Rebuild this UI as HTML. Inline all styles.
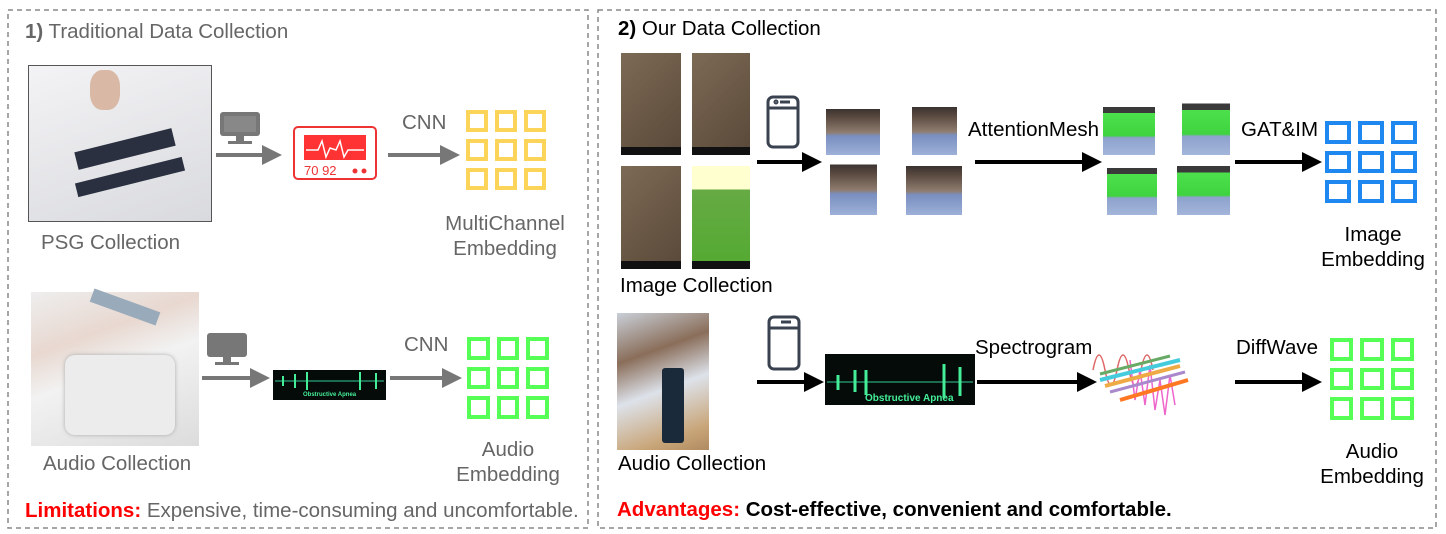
<!DOCTYPE html>
<html><head><meta charset="utf-8"><style>
*{margin:0;padding:0;box-sizing:border-box}
body{width:1446px;height:534px;background:#fff;position:relative;overflow:hidden;font-family:"Liberation Sans",Arial,sans-serif}
.a{position:absolute}
.t{position:absolute;font-size:20.5px;white-space:nowrap;line-height:24px}
.g{color:#666}
.k{color:#000}
.c{text-align:center}
.grid{position:absolute;display:grid;grid-template-columns:repeat(3,1fr);gap:7px}
.grid div{border:4px solid}
.face{position:absolute;background:linear-gradient(#fff 0%,#fff 8%,#3b3330 8%,#5a4a40 25%,#8f7d70 55%,#7a8fc0 62%,#9db0d8 100%);}
.mesh{position:absolute;background:linear-gradient(#fff 0%,#fff 6%,#3a3a3a 6%,#3a3a3a 18%,#4de04d 18%,#3fd43f 62%,#8da2cc 66%,#a3b5da 100%)}
.ph{position:absolute;background:linear-gradient(135deg,#7d6a55,#5b4a3a);border-bottom:8px solid #111}
</style></head><body>
<svg class="a" style="left:0;top:0" width="1446" height="534">
<defs>
<marker id="ag" markerWidth="5" markerHeight="5" refX="4" refY="2.5" orient="auto"><path d="M0,0L5,2.5L0,5z" fill="#777"/></marker>
<marker id="ab" markerWidth="5" markerHeight="5" refX="4" refY="2.5" orient="auto"><path d="M0,0L5,2.5L0,5z" fill="#000"/></marker>
</defs>
<rect x="8" y="10" width="580" height="518" fill="none" stroke="#888" stroke-width="1.5" stroke-dasharray="5,4"/>
<rect x="598" y="10" width="838" height="518" fill="none" stroke="#888" stroke-width="1.5" stroke-dasharray="5,4"/>
<line x1="216" y1="155" x2="278" y2="155" stroke="#777" stroke-width="4" marker-end="url(#ag)"/>
<line x1="388" y1="155" x2="456" y2="155" stroke="#777" stroke-width="4" marker-end="url(#ag)"/>
<line x1="202" y1="378" x2="266" y2="378" stroke="#777" stroke-width="4" marker-end="url(#ag)"/>
<line x1="390" y1="378" x2="458" y2="378" stroke="#777" stroke-width="4" marker-end="url(#ag)"/>
<line x1="757" y1="162" x2="818" y2="162" stroke="#000" stroke-width="4" marker-end="url(#ab)"/>
<line x1="975" y1="162" x2="1098" y2="162" stroke="#000" stroke-width="4" marker-end="url(#ab)"/>
<line x1="1235" y1="162" x2="1318" y2="162" stroke="#000" stroke-width="4" marker-end="url(#ab)"/>
<line x1="757" y1="382" x2="820" y2="382" stroke="#000" stroke-width="4" marker-end="url(#ab)"/>
<line x1="977" y1="382" x2="1093" y2="382" stroke="#000" stroke-width="4" marker-end="url(#ab)"/>
<line x1="1235" y1="382" x2="1318" y2="382" stroke="#000" stroke-width="4" marker-end="url(#ab)"/>
<g fill="#777"><rect x="220" y="112" width="40" height="24" rx="3"/><rect x="236" y="136" width="8" height="5"/><rect x="228" y="141" width="24" height="3"/></g>
<rect x="224" y="116" width="32" height="16" fill="#888"/>
<g fill="#777"><rect x="207" y="333" width="40" height="24" rx="3"/><rect x="223" y="357" width="8" height="5"/><rect x="215" y="362" width="24" height="3"/></g>
<rect x="294" y="127" width="82" height="52" rx="4" fill="#fff" stroke="#e33" stroke-width="2"/>
<rect x="304" y="135" width="62" height="25" fill="#f33"/>
<polyline points="306,150 318,150 322,141 326,157 330,148 336,150 340,141 344,157 348,150 364,150" fill="none" stroke="#fff" stroke-width="1.5"/>
<text x="304" y="175" font-size="13" fill="#e33" font-family="Liberation Sans">70 92</text>
<circle cx="355" cy="171" r="2.5" fill="#e33"/><circle cx="364" cy="171" r="2.5" fill="#e33"/>
<rect x="273" y="370" width="113" height="30" fill="#050b08"/>
<line x1="275" y1="381" x2="384" y2="381" stroke="#3c9" stroke-width="1"/>
<g stroke="#4e9" stroke-width="2"><line x1="283" y1="376" x2="283" y2="386"/><line x1="295" y1="374" x2="295" y2="388"/><line x1="307" y1="372" x2="307" y2="390"/><line x1="360" y1="372" x2="360" y2="390"/><line x1="376" y1="373" x2="376" y2="389"/></g>
<text x="303" y="396" font-size="6" fill="#4e9" font-family="Liberation Sans" font-weight="bold">Obstructive Apnea</text>
<rect x="825" y="354" width="150" height="51" fill="#050b08"/>
<line x1="827" y1="382" x2="973" y2="382" stroke="#3c9" stroke-width="1"/>
<g stroke="#4e9" stroke-width="3"><line x1="838" y1="375" x2="838" y2="390"/><line x1="855" y1="370" x2="855" y2="392"/><line x1="866" y1="370" x2="866" y2="395"/><line x1="944" y1="364" x2="944" y2="398"/><line x1="960" y1="367" x2="960" y2="396"/></g>
<text x="865" y="401" font-size="10" fill="#4e9" font-family="Liberation Sans" font-weight="bold">Obstructive Apnea</text>
<g fill="none" stroke="#3a4250" stroke-width="3"><rect x="768" y="97" width="30" height="50" rx="5"/><line x1="768" y1="108" x2="798" y2="108"/><circle cx="776" cy="102" r="1" /><line x1="780" y1="102" x2="790" y2="102"/></g>
<g fill="none" stroke="#3a4250" stroke-width="3"><rect x="769" y="317" width="30" height="52" rx="5"/><line x1="769" y1="328" x2="799" y2="328"/><line x1="781" y1="322" x2="791" y2="322"/></g>
<g fill="none" stroke-width="1.5">
<path d="M1093,370 q6,-30 12,0 t12,0 t12,0 t12,0 t12,0" stroke="#d66"/>
<path d="M1130,360 l5,40 l5,-30 l5,35 l5,-40 l5,45 l5,-30 l5,35 l5,-40 l5,30" stroke="#e6c"/>
<line x1="1100" y1="380" x2="1180" y2="360" stroke="#4cd" stroke-width="4"/>
<line x1="1105" y1="386" x2="1180" y2="366" stroke="#ea4" stroke-width="4"/>
<line x1="1110" y1="392" x2="1185" y2="372" stroke="#a8c" stroke-width="3"/>
<line x1="1120" y1="400" x2="1188" y2="380" stroke="#f72" stroke-width="4"/>
<line x1="1100" y1="374" x2="1170" y2="356" stroke="#6a6" stroke-width="3"/>
</g>
</svg>

<div class="t g" style="left:25px;top:20px"><b>1)</b> Traditional Data Collection</div>
<div class="t k" style="left:618px;top:17px"><b>2)</b> Our Data Collection</div>

<div class="a" style="left:28px;top:65px;width:184px;height:157px;border:1px solid #555;background:linear-gradient(160deg,#f3f3f5,#d9dade)"></div>
<div class="a" style="left:75px;top:140px;width:100px;height:18px;background:#2a3040;transform:rotate(-14deg)"></div>
<div class="a" style="left:75px;top:170px;width:110px;height:14px;background:#2a3040;transform:rotate(-14deg)"></div>
<div class="a" style="left:90px;top:70px;width:30px;height:40px;border-radius:40%;background:#d9b9a5"></div>
<div class="t g" style="left:41px;top:231px">PSG Collection</div>

<div class="t g" style="left:402px;top:111px">CNN</div>
<div class="grid" style="left:466px;top:110px;width:80px;height:80px"><div style="border-color:#fcd45a"></div><div style="border-color:#fcd45a"></div><div style="border-color:#fcd45a"></div><div style="border-color:#fcd45a"></div><div style="border-color:#fcd45a"></div><div style="border-color:#fcd45a"></div><div style="border-color:#fcd45a"></div><div style="border-color:#fcd45a"></div><div style="border-color:#fcd45a"></div></div>
<div class="t g c" style="left:440px;top:212px;width:130px">MultiChannel<br><span style="line-height:26px">Embedding</span></div>

<div class="a" style="left:31px;top:292px;width:168px;height:154px;background:linear-gradient(160deg,#eee 0%,#e8d8d0 30%,#f2f2f2 50%,#dcdcdc 100%)"></div>
<div class="a" style="left:65px;top:355px;width:110px;height:80px;background:#ececec;border-radius:10px;box-shadow:0 0 4px #aaa"></div>
<div class="a" style="left:90px;top:300px;width:70px;height:14px;background:#9ab;transform:rotate(20deg)"></div>
<div class="t g" style="left:43px;top:452px">Audio Collection</div>
<div class="t g" style="left:404px;top:333px">CNN</div>
<div class="grid" style="left:467px;top:337px;width:82px;height:82px"><div style="border-color:#5f5"></div><div style="border-color:#5f5"></div><div style="border-color:#5f5"></div><div style="border-color:#5f5"></div><div style="border-color:#5f5"></div><div style="border-color:#5f5"></div><div style="border-color:#5f5"></div><div style="border-color:#5f5"></div><div style="border-color:#5f5"></div></div>
<div class="t g c" style="left:443px;top:438px;width:130px">Audio<br><span style="line-height:26px">Embedding</span></div>
<div class="t g" style="left:25px;top:499px"><b style="color:#f00">Limitations:</b> Expensive, time-consuming and uncomfortable.</div>

<div class="ph" style="left:621px;top:53px;width:60px;height:102px"></div>
<div class="ph" style="left:692px;top:53px;width:58px;height:102px"></div>
<div class="ph" style="left:621px;top:166px;width:60px;height:103px"></div>
<div class="ph" style="left:692px;top:166px;width:58px;height:103px;background:linear-gradient(#ffffd0 0%,#ffffd0 25%,#6a4 25%,#5a3 100%)"></div>
<div class="t k" style="left:620px;top:274px">Image Collection</div>

<div class="face" style="left:826px;top:105px;width:54px;height:50px"></div>
<div class="face" style="left:912px;top:103px;width:45px;height:52px"></div>
<div class="face" style="left:830px;top:160px;width:47px;height:55px"></div>
<div class="face" style="left:906px;top:162px;width:56px;height:53px"></div>
<div class="t k" style="left:968px;top:118px">AttentionMesh</div>
<div class="mesh" style="left:1103px;top:104px;width:52px;height:51px"></div>
<div class="mesh" style="left:1182px;top:100px;width:48px;height:55px"></div>
<div class="mesh" style="left:1107px;top:165px;width:50px;height:50px"></div>
<div class="mesh" style="left:1177px;top:163px;width:53px;height:52px"></div>
<div class="t k" style="left:1241px;top:118px">GAT&amp;IM</div>
<div class="grid" style="left:1325px;top:121px;width:92px;height:82px"><div style="border-color:#1e88f0"></div><div style="border-color:#1e88f0"></div><div style="border-color:#1e88f0"></div><div style="border-color:#1e88f0"></div><div style="border-color:#1e88f0"></div><div style="border-color:#1e88f0"></div><div style="border-color:#1e88f0"></div><div style="border-color:#1e88f0"></div><div style="border-color:#1e88f0"></div></div>
<div class="t k c" style="left:1308px;top:223px;width:130px">Image<br><span style="line-height:26px">Embedding</span></div>

<div class="a" style="left:617px;top:313px;width:92px;height:137px;background:linear-gradient(160deg,#c9cfd8 0%,#8a6e5a 30%,#dde2ea 55%,#c9a67a 85%,#b08a60 100%)"></div>
<div class="a" style="left:662px;top:368px;width:22px;height:75px;background:#1a2a3a;border-radius:3px"></div>
<div class="t k" style="left:618px;top:452px">Audio Collection</div>
<div class="t k" style="left:975px;top:336px">Spectrogram</div>
<div class="t k" style="left:1236px;top:336px">DiffWave</div>
<div class="grid" style="left:1330px;top:338px;width:84px;height:82px"><div style="border-color:#5f5"></div><div style="border-color:#5f5"></div><div style="border-color:#5f5"></div><div style="border-color:#5f5"></div><div style="border-color:#5f5"></div><div style="border-color:#5f5"></div><div style="border-color:#5f5"></div><div style="border-color:#5f5"></div><div style="border-color:#5f5"></div></div>
<div class="t k c" style="left:1307px;top:440px;width:130px">Audio<br><span style="line-height:26px">Embedding</span></div>
<div class="t k" style="left:617px;top:498px"><b><span style="color:#f00">Advantages:</span> Cost-effective, convenient and comfortable.</b></div>
</body></html>
